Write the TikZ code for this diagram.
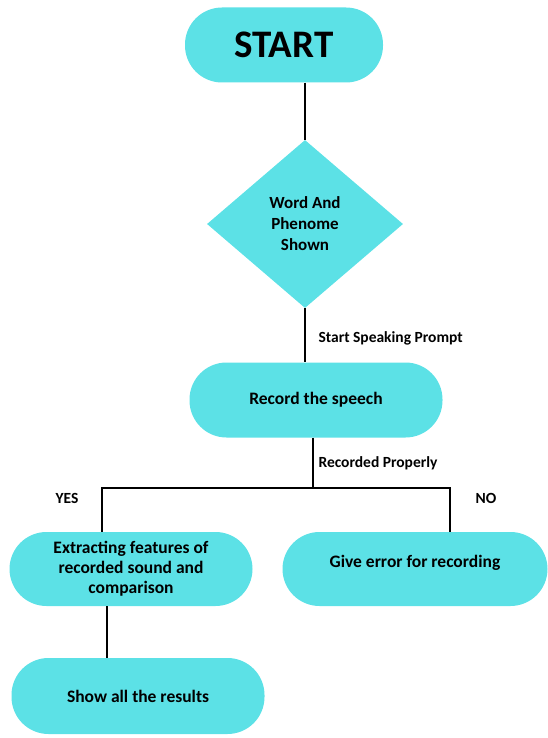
\documentclass[tikz,border=0pt]{standalone}
\usepackage{fontspec}
\setmainfont{Carlito}
\usetikzlibrary{shapes.geometric}
\definecolor{turquesa}{HTML}{5CE1E6}

\begin{document}
\begin{tikzpicture}[x=1pt,y=-1pt,
    bloque/.style={fill=turquesa, rounded corners=37pt, minimum height=75pt, align=center, font=\bfseries\fontsize{17.5}{20}\selectfont},
    rombo/.style={diamond, fill=turquesa, minimum width=196pt, minimum height=168pt, inner sep=0pt, align=center, font=\bfseries\fontsize{17}{21}\selectfont},
    linea/.style={black, line width=2.4pt},
    etiqueta/.style={font=\bfseries\fontsize{15.5}{18}\selectfont, anchor=west}]

    \useasboundingbox (0,0) rectangle (548,738);

    % inicio
    \node[bloque, minimum width=198pt, font=\bfseries\fontsize{39}{42}\selectfont] (start) at (284,45) {START};

    % palabra y fonema
    \node[rombo] (word) at (305,224) {Word And\\Phenome\\Shown};

    % grabacion
    \node[bloque, minimum width=253pt] (record) at (316,400) {Record the speech};

    % ramas
    \node[bloque, minimum width=243pt, minimum height=74pt] (extract) at (131,569) {Extracting features of\\recorded sound and\\comparison};
    \node[bloque, minimum width=265pt, minimum height=74pt, text depth=15pt] (error) at (415,569) {Give error for recording};

    % resultados
    \node[bloque, minimum width=253pt, minimum height=76pt] (show) at (138,696) {Show all the results};

    % puntos de las ramas
    \coordinate (split) at (313,488);
    \coordinate (yes) at (102,488);
    \coordinate (no) at (450,488);
    \coordinate (down) at (107,606);

    % conectores
    \draw[linea] (start.south -| word.north) -- (word.north);
    \draw[linea] (word.south) -- (word.south |- record.north);
    \draw[linea] (record.south -| split) -- (split);
    \draw[linea] (yes |- extract.north) -- (yes) -- (no) -- (no |- error.north);
    \draw[linea] (down) -- (down |- show.north);

    %leyendas
    \node[etiqueta] (prompt) at (315,338) {Start Speaking Prompt};
    \node[etiqueta] (properly) at (315,463) {Recorded Properly};
    \node[etiqueta, anchor=center] (yeslabel) at (67,498) {YES};
    \node[etiqueta, anchor=center] (nolabel) at (486,498) {NO};

\end{tikzpicture}
\end{document}
